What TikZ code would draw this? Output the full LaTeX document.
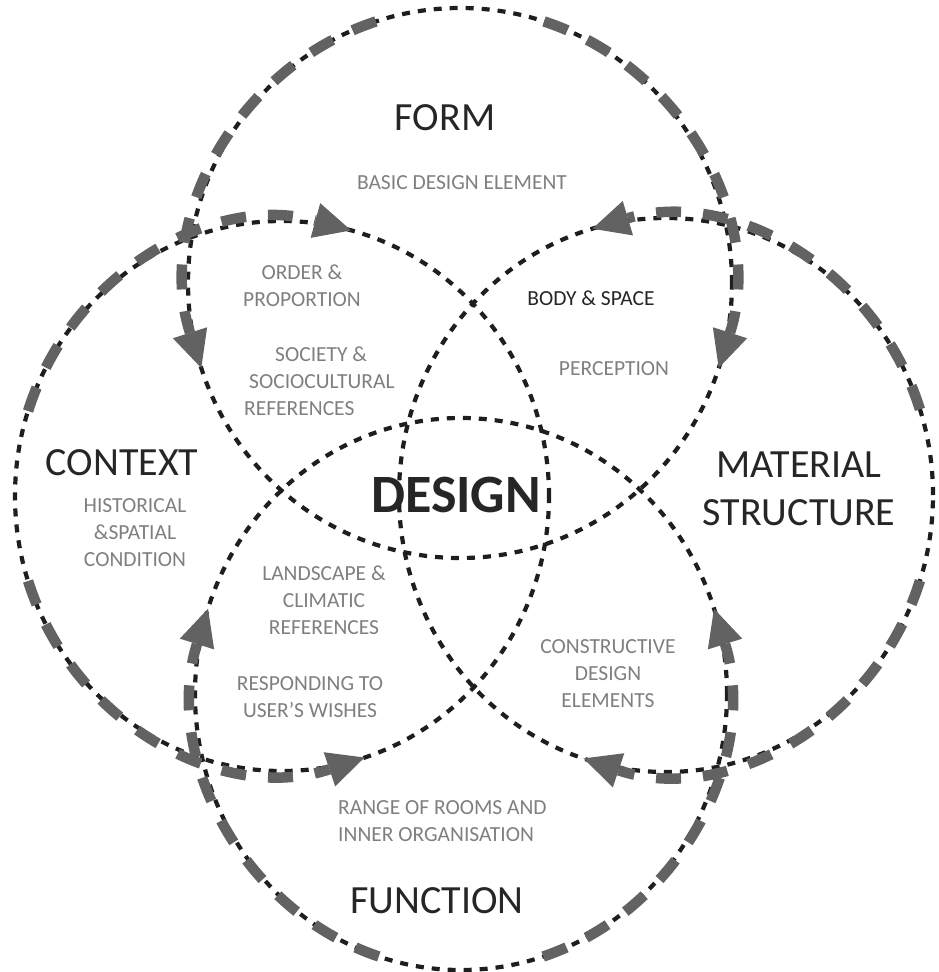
\documentclass[tikz,border=0pt]{standalone}
\usepackage{fontspec}
\setmainfont{Carlito}
\usetikzlibrary{arrows.meta}
\definecolor{ringink}{HTML}{1E1E1E}
\definecolor{flowgray}{HTML}{626262}
\definecolor{nameink}{HTML}{262626}
\definecolor{notegray}{HTML}{7F7F7F}
\tikzset{
	ring/.style={draw=ringink,line width=4.2pt,dash pattern=on 8pt off 8pt},
	flow/.style={draw=flowgray,line width=10.5pt,dash pattern=on 25pt off 22pt,
		-{Triangle[length=37pt,width=36pt,line width=0pt]}},
	fieldname/.style={font=\fontsize{40}{48}\selectfont,text=nameink,align=center},
	note/.style={font=\fontsize{21.5}{27}\selectfont,text=notegray,align=center}
}
\begin{document}
\begin{tikzpicture}[x=1pt,y=1pt]
	\useasboundingbox (0,0) rectangle (938,-972);
	% centres of the four fields
	\coordinate (form) at (460,-283);
	\coordinate (context) at (282,-496);
	\coordinate (material) at (666,-495);
	\coordinate (function) at (461,-694);
	% dashed rings
	\draw[ring] (form) ellipse [x radius=272,y radius=275];
	\draw[ring] (context) ellipse [x radius=267,y radius=275];
	\draw[ring] (material) ellipse [x radius=267,y radius=277];
	\draw[ring] (function) ellipse [x radius=266,y radius=276];
	% grey arrows along the rings
	\draw[flow] ([shift={(108:272 and 275)}]form) arc[start angle=108,end angle=198,x radius=272,y radius=275];
	\draw[flow] ([shift={(72:272 and 275)}]form) arc[start angle=72,end angle=-18,x radius=272,y radius=275];
	\draw[flow] ([shift={(162:267 and 275)}]context) arc[start angle=162,end angle=75,x radius=267,y radius=275];
	\draw[flow] ([shift={(198:267 and 275)}]context) arc[start angle=198,end angle=288,x radius=267,y radius=275];
	\draw[flow] ([shift={(18:267 and 277)}]material) arc[start angle=18,end angle=106,x radius=267,y radius=277];
	\draw[flow] ([shift={(-18:267 and 277)}]material) arc[start angle=-18,end angle=-108,x radius=267,y radius=277];
	\draw[flow] ([shift={(-108:266 and 276)}]function) arc[start angle=-108,end angle=-198,x radius=266,y radius=276];
	\draw[flow] ([shift={(-72:266 and 276)}]function) arc[start angle=-72,end angle=18,x radius=266,y radius=276];
	% texts
	\node[fieldname] (formname) at (445,-118) {FORM};
	\node[note] (formnote) at (462,-183) {BASIC DESIGN ELEMENT};
	\node[note] (order) at (302,-286) {ORDER \&\\PROPORTION};
	\node[note,align=left,anchor=west,inner sep=0pt] (society) at (244,-381)
		{\hspace*{31pt}SOCIETY \&\\\hspace*{5pt}SOCIOCULTURAL\\REFERENCES};
	\node[note,text=nameink] (body) at (591,-298) {BODY \& SPACE};
	\node[note] (perception) at (614,-369) {PERCEPTION};
	\node[fieldname] (contextname) at (122,-463) {CONTEXT};
	\node[note] (contextnote) at (135,-533) {HISTORICAL\\\&SPATIAL\\CONDITION};
	\node[fieldname] (materialname) at (799,-489) {MATERIAL\\STRUCTURE};
	\node[font=\bfseries\fontsize{54}{60}\selectfont,text=nameink] (design) at (456,-495) {DESIGN};
	\node[note] (landscape) at (324,-600) {LANDSCAPE \&\\CLIMATIC\\REFERENCES};
	\node[note] (wishes) at (310,-697) {RESPONDING TO\\USER’S WISHES};
	\node[note] (constructive) at (608,-674) {CONSTRUCTIVE\\DESIGN\\ELEMENTS};
	\node[note,align=left,anchor=west,inner sep=0pt] (rooms) at (338,-821)
		{RANGE OF ROOMS AND\\INNER ORGANISATION};
	\node[fieldname] (functionname) at (437,-901) {FUNCTION};
\end{tikzpicture}
\end{document}
